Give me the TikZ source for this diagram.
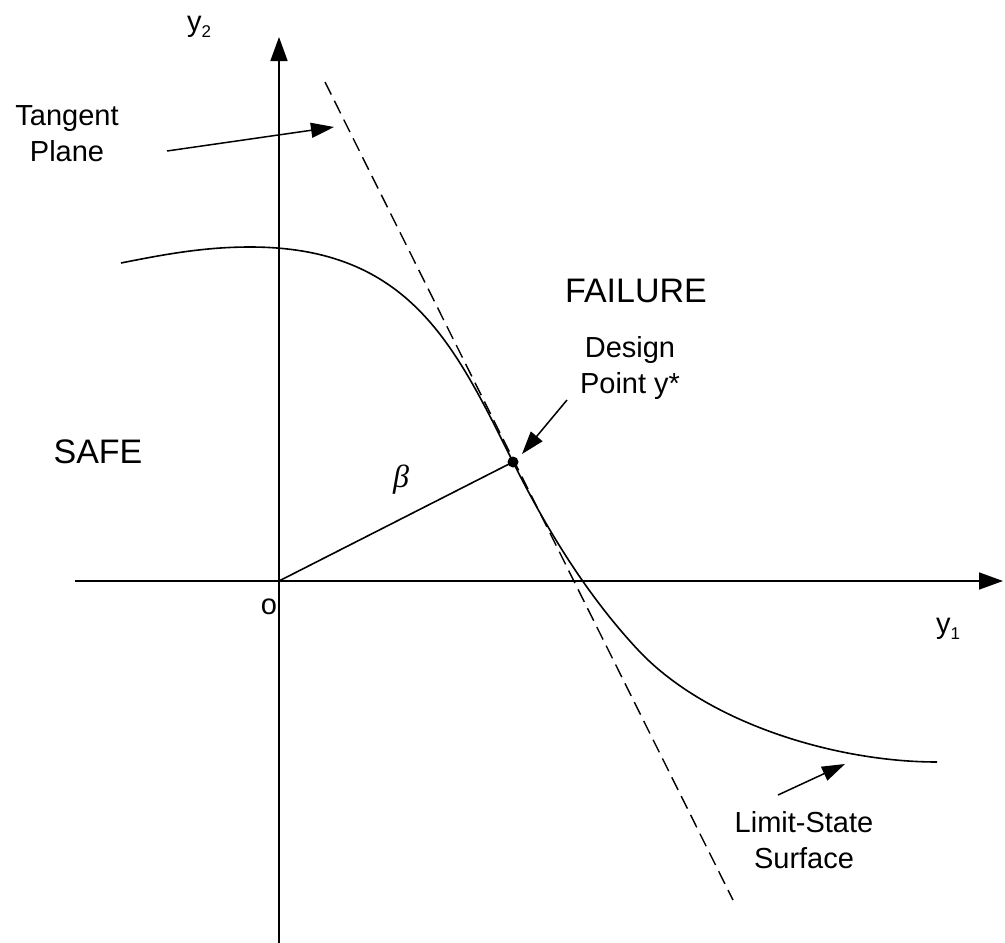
\documentclass[tikz,border=0pt]{standalone}
\usepackage{fontspec}
\setmainfont{Liberation Sans}
\newfontfamily\greekserif{Liberation Serif}
\usetikzlibrary{arrows.meta}
\begin{document}
\begin{tikzpicture}[x=1pt,y=-1pt,
  axisline/.style={line width=1.6pt,-{Triangle[length=24pt,width=17pt]}},
  pointer/.style={line width=1.5pt,-{Triangle[length=23pt,width=15pt]}},
  curveline/.style={line width=1.6pt},
  tangentline/.style={line width=1.4pt,dash pattern=on 14pt off 7pt},
  lbl/.style={font=\fontsize{29}{36}\selectfont,align=center,inner sep=0pt},
  region/.style={font=\fontsize{34}{40}\selectfont,inner sep=0pt},
  axlbl/.style={font=\fontsize{29}{34}\selectfont,inner sep=0pt},
]
\useasboundingbox (0,0) rectangle (1005,943);

% axes
\coordinate (O) at (279,581);
\coordinate (xstart) at (75,581);
\coordinate (xend) at (1003,581);
\coordinate (ystart) at (279,943);
\coordinate (yend) at (279,37);
\draw[axisline] (xstart) -- (xend);
\draw[axisline] (ystart) -- (yend);

% axis labels
\node[axlbl] (y2lbl) at (199,27) {y\raisebox{-0.35ex}{\fontsize{17}{17}\selectfont 2}};
\node[axlbl] (y1lbl) at (948,629) {y\raisebox{-0.35ex}{\fontsize{17}{17}\selectfont 1}};
\node[axlbl] (olbl) at (269,607) {o};

% limit-state curve
\draw[curveline] (121,263) .. controls (166,254) and (205,247) .. (250,247)
  .. controls (410,247) and (455,346) .. (513,462)
  .. controls (547,530) and (588,597) .. (640,652)
  .. controls (709,724) and (837,762) .. (937,762);

% tangent plane
\coordinate (tstart) at (325,82);
\coordinate (tend) at (733,900);
\draw[tangentline] (tstart) -- (tend);

% design point and beta
\node[circle,fill=black,inner sep=0pt,minimum size=11pt] (dp) at (513,462) {};
\draw[curveline] (O) -- (dp.center);
\node[font=\greekserif\itshape\fontsize{32}{32}\selectfont,inner sep=0pt] (beta) at (401,480) {β};

% region labels
\node[region] (safe) at (98,452) {SAFE};
\node[region] (failure) at (636,291) {FAILURE};

% annotation labels
\node[lbl] (tplbl) at (67,134) {Tangent\\Plane};
\node[lbl] (dplbl) at (630,368) {Design\\Point y*};
\node[lbl] (lslbl) at (804,840) {Limit-State\\Surface};

% pointers
\coordinate (tpa) at (167,151);
\coordinate (tpb) at (334,127);
\draw[pointer] (tpa) -- (tpb);
\coordinate (dpa) at (567,400);
\coordinate (dpb) at (522,454);
\draw[pointer] (dpa) -- (dpb);
\coordinate (lsa) at (778,795);
\coordinate (lsb) at (845,764);
\draw[pointer] (lsa) -- (lsb);
\end{tikzpicture}
\end{document}
